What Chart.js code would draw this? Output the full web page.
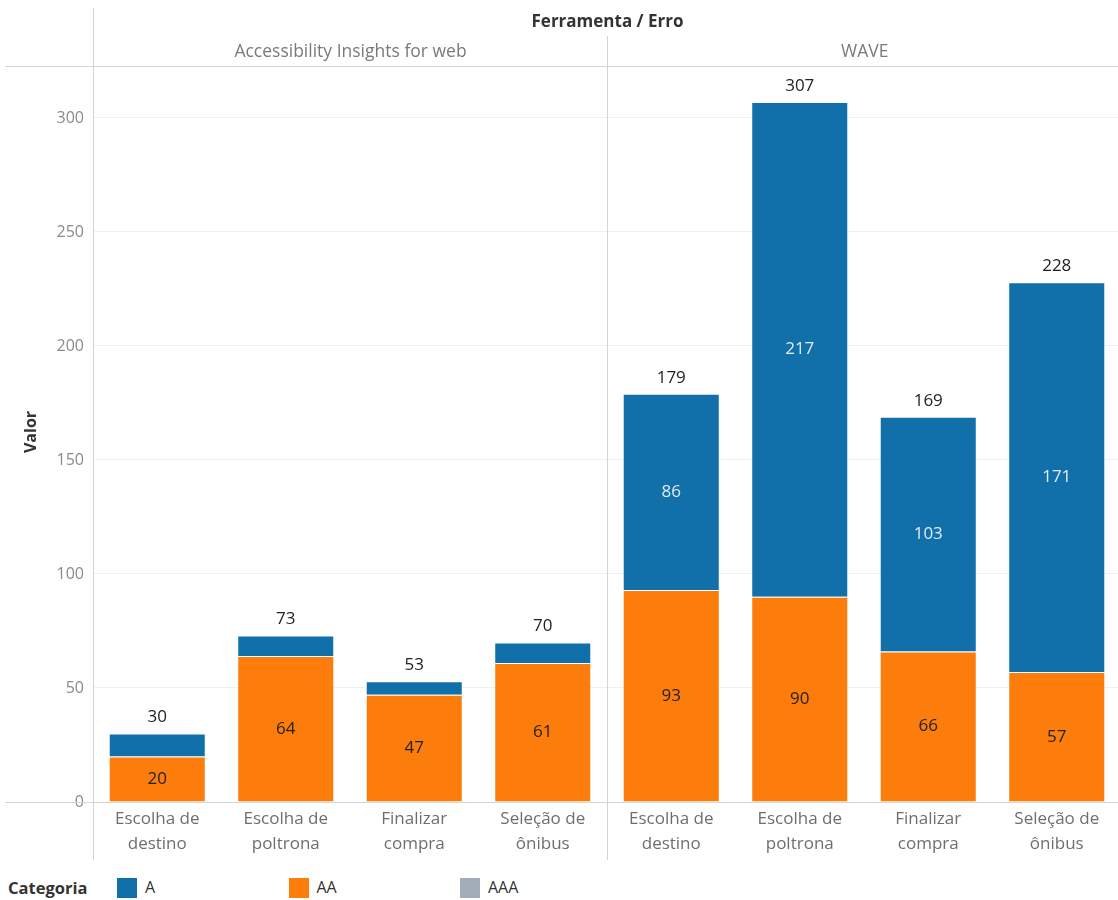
<!DOCTYPE html>
<html><head><meta charset="utf-8">
<script src="https://cdn.jsdelivr.net/npm/chart.js@4.4.1/dist/chart.umd.min.js"></script>
<style>
html,body{margin:0;padding:0;background:#fff;overflow:hidden;width:1118px;height:900px}
#wrap{position:absolute;left:0;top:0;width:1125px;height:870px}
#legend{position:absolute;left:0;top:870px;width:1118px;height:30px;font-family:'Open Sans',sans-serif;font-size:16px;color:#333}
#legend .t{position:absolute;left:8px;top:6px;font-weight:bold;font-size:16.5px;color:#333}
#legend .it{position:absolute;top:6px}
#legend .box{position:absolute;top:8px;width:20px;height:20px}
</style></head><body>
<div id="wrap"><canvas id="c"></canvas></div>
<div id="legend"></div>
<script>
const tools = ['Accessibility Insights for web', 'WAVE'];
const categories = [['Escolha de','destino'], ['Escolha de','poltrona'], ['Finalizar','compra'], ['Seleção de','ônibus']];
const seriesA  = [10, 9, 6, 9, 86, 217, 103, 171];
const seriesAA = [20, 64, 47, 61, 93, 90, 66, 57];
const seriesAAA = [];
const yTickStep = 50;
const headerTitle = 'Ferramenta / Erro';
const yTitle = 'Valor';
const legendTitle = 'Categoria';
const colA = '#1170aa', colAA = '#fc7d0b', colAAA = '#a3acb9';

const labels = tools.flatMap(() => categories);
const FONT = "'Open Sans', sans-serif";

const decor = {
  id: 'decor',
  afterDraw(chart) {
    const {ctx, chartArea: a, scales: {x, y}} = chart;
    const div = Math.round((x.getPixelForValue(3) + x.getPixelForValue(4)) / 2) + 0.5;
    const L = Math.round(a.left) + 0.5, T = Math.round(a.top) + 0.5, B = Math.round(a.bottom) + 0.5;
    ctx.save();
    ctx.strokeStyle = '#d4d4d4'; ctx.lineWidth = 1;
    const line = (x1, y1, x2, y2) => { ctx.beginPath(); ctx.moveTo(x1, y1); ctx.lineTo(x2, y2); ctx.stroke(); };
    line(5, T, 1125, T);
    line(5, B, 1125, B);
    line(L, 8, L, 860);
    line(div, 36, div, 860);
    // headers
    ctx.textAlign = 'center'; ctx.textBaseline = 'middle';
    ctx.fillStyle = '#333'; ctx.font = "bold 17px " + FONT;
    ctx.fillText(headerTitle, div, 22);
    ctx.fillStyle = '#7a7a7a'; ctx.font = "17.5px " + FONT;
    ctx.fillText(tools[0], (L + div) / 2, 52);
    ctx.fillText(tools[1], (div + 1122) / 2, 52);
    // y title
    ctx.save();
    ctx.translate(31, (a.top + a.bottom) / 2 - 2);
    ctx.rotate(-Math.PI / 2);
    ctx.fillStyle = '#333'; ctx.font = "bold 16px " + FONT;
    ctx.fillText(yTitle, 0, 0);
    ctx.restore();
    // value labels
    const mAA = chart.getDatasetMeta(0), mA = chart.getDatasetMeta(1);
    ctx.font = "17px " + FONT;
    mAA.data.forEach((bar, i) => {
      const h = Math.abs(bar.base - bar.y);
      if (h > 30) { ctx.fillStyle = '#222'; ctx.fillText(String(seriesAA[i]), bar.x, (bar.y + bar.base) / 2); }
    });
    mA.data.forEach((bar, i) => {
      const h = Math.abs(bar.base - bar.y);
      if (h > 30) { ctx.fillStyle = '#e3ebf3'; ctx.fillText(String(seriesA[i]), bar.x, (bar.y + bar.base) / 2); }
      ctx.fillStyle = '#222';
      ctx.fillText(String(seriesA[i] + seriesAA[i]), bar.x, bar.y - 16);
    });
    ctx.restore();
  }
};

new Chart(document.getElementById('c'), {
  type: 'bar',
  data: {
    labels: labels,
    datasets: [
      {label: 'AA', data: seriesAA, backgroundColor: colAA, borderColor: 'rgba(255,255,255,0.35)', borderWidth: 1, barPercentage: 0.755, categoryPercentage: 1},
      {label: 'A', data: seriesA, backgroundColor: colA, borderColor: 'rgba(255,255,255,0.35)', borderWidth: 1, barPercentage: 0.755, categoryPercentage: 1},
      {label: 'AAA', data: seriesAAA, backgroundColor: colAAA, barPercentage: 0.755, categoryPercentage: 1}
    ]
  },
  options: {
    responsive: true, maintainAspectRatio: false, animation: false,
    layout: {padding: {top: 66, right: 4, bottom: 0, left: 0}},
    plugins: {legend: {display: false}, tooltip: {enabled: false}},
    scales: {
      x: {
        stacked: true,
        grid: {display: false, drawTicks: false},
        border: {display: false},
        ticks: {color: '#6e6e6e', font: {family: FONT, size: 17, lineHeight: 1.47}, padding: 5, maxRotation: 0, autoSkip: false},
        afterFit(s) { s.height = 68; }
      },
      y: {
        stacked: true, min: 0, max: 322.8,
        grid: {color: '#f0f0f0', drawTicks: false},
        border: {display: false},
        ticks: {stepSize: yTickStep, includeBounds: false, color: '#8a8a8a', font: {family: FONT, size: 16}, padding: 9},
        title: {display: false},
        afterFit(s) { s.width = 93; }
      }
    }
  },
  plugins: [decor]
});

// legend
const lg = document.getElementById('legend');
const t = document.createElement('span'); t.className = 't'; t.textContent = legendTitle; lg.appendChild(t);
[['A', colA], ['AA', colAA], ['AAA', colAAA]].forEach(([name, col], i) => {
  const b = document.createElement('span'); b.className = 'box'; b.style.left = (117 + i * 171.5) + 'px'; b.style.background = col; lg.appendChild(b);
  const s = document.createElement('span'); s.className = 'it'; s.style.left = (145 + i * 171.5) + 'px'; s.textContent = name; lg.appendChild(s);
});
</script>
</body></html>
